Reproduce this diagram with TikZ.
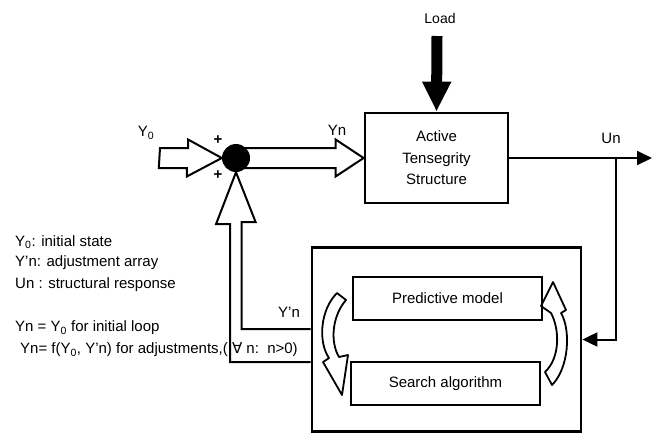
\documentclass[tikz,border=0pt]{standalone}
\usepackage{fontspec}
\setmainfont{Liberation Sans}
\newfontfamily\symfont{DejaVu Sans}
\usetikzlibrary{arrows.meta,positioning,calc}

\begin{document}
\begin{tikzpicture}[
    x=1pt, y=-1pt,
    font=\fontsize{15}{21.5}\selectfont,
    blk/.style={draw, line width=2.8pt, align=center, inner sep=0pt},
    hollow/.style={draw, line width=2pt, line join=miter},
    sumdot/.style={circle, fill=black, minimum size=28pt, inner sep=0pt},
    sig/.style={line width=2pt, -{Triangle[length=15pt,width=14pt]}},
    loadarr/.style={line width=11pt, -{Triangle[length=30pt,width=27pt]}},
    curvy/.style={draw, line width=1.8pt, line join=round},
    lgd/.style={anchor=west, inner sep=0pt},
  ]
    \useasboundingbox (0,0) rectangle (658,432);

    % blocks
    \node[sumdot] (sum) at (236,158) {};
    \node[blk, minimum width=143pt, minimum height=90pt] (act) at (436.5,158) {Active\\Tensegrity\\Structure};
    \node[blk, minimum width=269pt, minimum height=184pt] (ctrl) at (446.5,339.5) {};
    \node[blk, minimum width=189pt, minimum height=43pt] (pm) at (447.5,298.5) {Predictive model};
    \node[blk, minimum width=189pt, minimum height=43pt] (sa) at (445.5,383.5) {Search algorithm};

    % load
    \node (load) at (440,18) {\fontsize{14}{16}\selectfont Load};
    \coordinate (loadtop) at (437,36);
    \draw[loadarr] (loadtop) -- (act.north);

    % input Y0
    \coordinate (y0tail) at (160,158);
    \draw[hollow] ($(y0tail)+(0,-10)$) -- ++(28,0) -- ++(0,-8.5) -- (sum.west)
      -- ++(-35,18.5) -- ++(0,-8.5) -- ++(-28,0) -- cycle;
    \node (y0) at (146,133) {Y\textsubscript{0}};
    \node (pa) at (218,140) {\bfseries +};
    \node (pb) at (218,175) {\bfseries +};

    % Yn
    \draw[hollow] ($(sum.center)+(8,-10)$) -- ($(act.west)+(-28,-10)$) -- ++(0,-8.5) -- (act.west)
      -- ($(act.west)+(-28,18.5)$) -- ++(0,-8.5) -- ($(sum.center)+(8,10)$);
    \node (yn) at (337,130) {Yn};

    % output Un and feedback
    \coordinate (unout) at (652,158);
    \coordinate (unbr) at (616,158);
    \draw[sig] (act.east) -- (unout);
    \draw[sig] (unbr) |- (ctrl.east);
    \node (un) at (611,138) {Un};

    % Y'n back to the junction
    \draw[hollow] ($(ctrl.west)+(0,-10.5)$) -| ++(-69,-107) -- ++(14,0) -- (sum.south)
      -- ++(-20,52) -- ++(14,0) |- ($(ctrl.west)+(0,22.5)$);
    \node (ypn) at (289,312) {Y'n};

    % loop between the two inner blocks
    \draw[curvy] (337,293) .. controls (320,310) and (318,342) .. (329,358) -- (323,362)
      -- (342,395) -- (348,355) -- (339,357) .. controls (330,342) and (332,316) .. (346,300) -- cycle;
    \draw[curvy] (552,385) .. controls (569,368) and (571,330) .. (561,313) -- (566,310)
      -- (553,282) -- (541,306) -- (551,313) .. controls (560,330) and (560,358) .. (545,372) -- cycle;

    % legend
    \node[lgd] (lgyo) at (15,242) {Y\textsubscript{0}: initial state};
    \node[lgd] (lgyp) at (15,263) {Y'n: adjustment array};
    \node[lgd] (lgun) at (15,285) {Un : structural response};
    \node[lgd] (lgini) at (15,328) {Yn = Y\textsubscript{0} for initial loop};
    \node[lgd] (lgadj) at (20,350) {Yn= f(Y\textsubscript{0}, Y'n) for adjustments,( {\symfont ∀} n:\ \ n>0)};
  \end{tikzpicture}
\end{document}
